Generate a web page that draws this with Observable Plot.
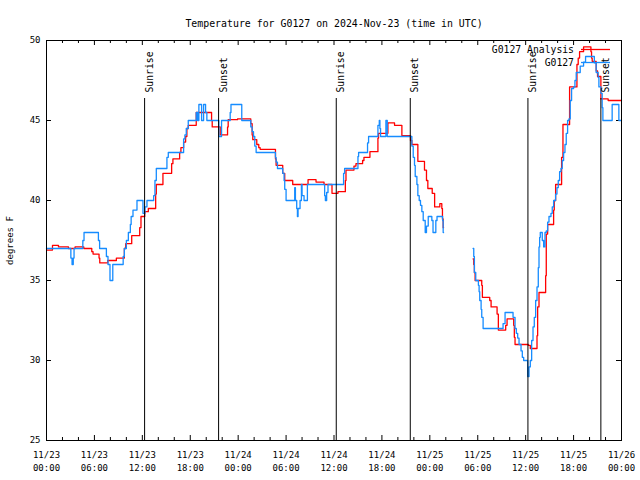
<!DOCTYPE html>
<html><head><meta charset="utf-8">
<script src="https://cdn.jsdelivr.net/npm/d3@7"></script>
<script src="https://cdn.jsdelivr.net/npm/@observablehq/plot@0.6"></script>
<style>body{margin:0;background:#fff} svg{display:block}</style>
</head><body><div id="chart"></div>
<script>
const startISO = "2024-11-23T00:00:00Z";
const spanHours = 72;
const titleText = "Temperature for G0127 on 2024-Nov-23 (time in UTC)";
const yLabel = "degrees F";
const yTicks = [25, 30, 35, 40, 45, 50];
const seriesNames = ["G0127 Analysis", "G0127"];
const seriesColors = ["#ff0000", "#168cff"];
const eventTimes = ["2024-11-23T12:17Z", "2024-11-23T21:33Z", "2024-11-24T12:17Z", "2024-11-24T21:33Z", "2024-11-25T12:17Z", "2024-11-25T21:25Z"];
const eventLabels = ["Sunrise", "Sunset", "Sunrise", "Sunset", "Sunrise", "Sunset"];

// observed (G0127), hours since start, step values; null = no data
const obsHour = [0,3.05,3.2,3.35,3.45,4.55,4.7,6.5,6.65,7.5,7.7,7.95,8.3,9.6,9.75,10.0,10.25,10.5,10.6,10.83,11.33,12.08,12.33,12.58,13.42,13.58,13.75,15.08,15.25,17.17,17.33,17.5,17.75,18.75,18.92,19.08,19.42,19.67,19.92,20.08,21.58,21.92,23.0,23.1,24.45,25.58,25.75,25.92,26.08,26.25,28.67,28.75,28.92,29.58,29.75,29.83,30.0,31.08,31.17,31.33,31.42,31.5,31.75,31.92,32.0,32.25,32.67,34.83,34.92,35.08,35.25,37.2,37.33,39.0,39.08,40.2,40.33,41.5,41.67,41.75,41.83,42.5,42.67,45.75,45.92,46.08,46.17,46.38,46.5,46.67,46.83,47.0,47.17,47.42,47.58,47.8,48.25,48.4,48.75,48.9,49.6,49.67,49.72,49.75,53.42,53.5,53.58,53.75,54.08,54.17,54.25,54.42,54.5,54.67,57.17,57.42,58.42,58.67,58.83,59.0,59.17,59.42,59.58,59.75,60.25,60.42,60.58,60.75,60.92,61.08,61.25,61.42,61.58,61.67,61.75,61.83,62.08,62.25,62.42,62.58,62.75,62.92,63.17,63.33,63.5,63.75,63.92,64.08,64.25,64.42,64.58,64.75,64.92,65.08,65.25,65.42,65.58,65.75,66.0,66.17,66.33,66.83,67.25,67.5,68.6,68.83,69.08,69.17,69.42,69.58,69.67,70.83,71.67,72];
const obsTemp = [37,36.4,36,36.4,37,37.5,38,37.5,37,36.5,36,35,36,36.5,37,37.5,38,38.5,39,39.4,40,39.2,39.6,40,40.3,41.25,42,42.7,43,43.85,44.1,44.5,45,45.5,45,46,45,46,45.5,45,44,45,45.5,46,45,44.6,44.3,44,43.4,43,42.7,42.4,42,41.7,41.25,40.7,40,40.8,40,39.5,39,39.5,40,41,40.3,40,41,40.3,40,40.5,41,41.7,42,42.75,43,43.6,44,44.7,45,44.5,44,45,44,43.4,42.7,42.2,41.5,41,40.3,40,39.7,39.3,38.75,38,38.4,39,38.75,38,38.75,39,38.75,38,38,null,37,36.5,35.5,35,34.7,34.3,33.75,33.2,32.7,32,32.3,33,32.7,32,31.7,31.4,31,30.6,30.2,30,29,29.6,30,31.25,32.1,32.7,33.75,34.6,35.8,37.1,37.7,38,37.5,37.1,38,38.1,38.65,39,39.2,39.6,40,40.4,40.8,41.25,41.8,42,42.5,43,43.5,44.2,45,45.1,46.25,47,47.1,47.5,48,48.4,48.65,49,48.6,48,47.7,47.1,46.7,45.8,45,46,45,45];

// analysis (G0127 Analysis)
const anaHour = [0,0.75,1.5,2.75,3.58,4.67,5.67,5.83,6.58,6.67,7.67,8.75,9.75,9.92,10.67,11.67,11.83,12.3,12.75,13.67,13.75,14.58,15.67,15.83,16.67,16.83,17.17,17.42,17.58,17.75,18.75,20.67,20.75,21.75,22.67,22.75,23.92,25.58,25.75,25.83,26.33,26.58,26.75,28.67,28.75,29.58,29.83,30.83,32.75,33.75,34.75,35.75,36.5,37.42,37.5,38.5,38.75,39.58,39.75,40.5,41.5,41.58,42.75,43.58,44.5,45.58,45.75,46.5,47.33,47.58,47.75,48.3,48.6,49.25,49.5,49.58,49.67,49.72,49.75,53.42,53.5,53.58,53.67,54.5,54.58,55.5,55.67,56.42,56.58,57.5,57.67,58.5,58.58,58.67,60.33,60.58,61.42,61.5,61.67,62.5,62.58,62.75,63.5,63.58,63.75,64.5,64.67,65.5,66.42,66.58,66.75,67.25,68.17,68.25,68.33,68.83,69.0,69.42,70.33,72];
const anaTemp = [36.9,37.2,37.1,37.0,37.1,37.0,36.8,36.65,36.4,36.1,36.25,36.4,37.0,37.3,37.8,38.3,39.0,39.3,39.5,40.4,41.0,41.7,42.3,42.6,43.0,43.3,43.65,44.0,44.5,44.7,45.5,45.0,44.6,44.1,44.6,45.05,45.1,44.8,44.1,43.8,43.5,43.3,43.2,42.6,42.2,41.7,41.25,41.0,41.3,41.15,41.0,40.45,40.55,41.25,41.9,42.15,42.3,42.5,42.7,43.05,43.9,44.2,44.85,44.7,44.05,43.75,43.5,42.45,41.9,41.25,40.75,40.45,39.6,39.8,39.5,38.85,38.3,38.3,null,36.35,36.0,35.5,35.0,34.7,33.95,33.75,33.35,32.9,31.9,32.2,32.6,32.2,31.45,31.0,30.95,30.75,31.55,33.35,34.25,35.3,37.9,38.5,39.4,40.0,41.0,42.7,44.75,47.1,48.5,48.9,49.3,49.6,49.3,48.9,48.7,48.1,47.75,46.35,46.25,46.25];

const t0 = new Date(startISO);
const toDate = h => new Date(+t0 + h * 3600e3);
const tEnd = toDate(spanHours);
const obs = obsHour.map((h, i) => ({time: toDate(h), temp: obsTemp[i]}));
const ana = anaHour.map((h, i) => ({time: toDate(h), temp: anaTemp[i]}));
const events = eventTimes.map((t, i) => ({time: new Date(t), label: eventLabels[i]}));
const majorTicks = d3.utcHour.every(6).range(t0, new Date(+tEnd + 1));
const minorTicks = d3.utcHour.every(2).range(t0, new Date(+tEnd + 1)).filter(d => d.getUTCHours() % 6 !== 0);
const innerY = yTicks.slice(1, -1);
const fmtDay = d3.utcFormat("%m/%d"), fmtHM = d3.utcFormat("%H:%M");
const mono = "DejaVu Sans Mono";

function legend(index, scales, values, dims) {
  const g = d3.create("svg:g").attr("font-family", mono).attr("font-size", 9.75);
  const xr = dims.width - dims.marginRight;
  seriesNames.forEach((name, i) => {
    const y = dims.marginTop + 9.5 + i * 13;
    g.append("text").attr("x", xr - 47).attr("y", y).attr("dy", "0.35em")
      .attr("text-anchor", "end").attr("fill", "black").text(name);
    g.append("line").attr("x1", xr - 40).attr("x2", xr - 11).attr("y1", y).attr("y2", y)
      .attr("stroke", seriesColors[i]).attr("stroke-width", 1.3);
  });
  return g.node();
}

const chart = Plot.plot({
  width: 640, height: 480,
  marginLeft: 46, marginRight: 19, marginTop: 40, marginBottom: 40,
  style: {fontFamily: mono, fontSize: "9px", background: "white", color: "black"},
  x: {type: "utc", domain: [t0, tEnd]},
  y: {domain: [25, 50]},
  marks: [
    Plot.ruleX(majorTicks, {insetTop: 395, stroke: "black"}),
    Plot.ruleX(majorTicks, {insetBottom: 395, stroke: "black"}),
    Plot.ruleX(minorTicks, {insetTop: 397, stroke: "black"}),
    Plot.ruleX(minorTicks, {insetBottom: 397, stroke: "black"}),
    Plot.ruleY(innerY, {insetRight: 570, stroke: "black"}),
    Plot.ruleY(innerY, {insetLeft: 570, stroke: "black"}),
    Plot.line(ana, {x: "time", y: "temp", curve: "step-after", stroke: seriesColors[0], strokeWidth: 1.3}),
    Plot.line(obs, {x: "time", y: "temp", curve: "step-after", stroke: seriesColors[1], strokeWidth: 1.3}),
    Plot.ruleX(events, {x: "time", insetTop: 58, stroke: "black", strokeWidth: 1}),
    Plot.text(events, {x: "time", text: "label", frameAnchor: "top", dy: 52, dx: 1, rotate: -90, textAnchor: "start", fontSize: 9.75, fill: "black"}),
    Plot.frame({stroke: "black"}),
    Plot.axisX({ticks: majorTicks, tickSize: 0, tickPadding: 8, tickFormat: d => fmtDay(d) + "\n" + fmtHM(d), lineHeight: 1.45, fontSize: 9, label: null}),
    Plot.axisY({ticks: yTicks, tickSize: 0, tickPadding: 6, fontSize: 9, label: yLabel, labelAnchor: "center", labelArrow: "none", labelOffset: 40}),
    Plot.text([titleText], {frameAnchor: "top", dy: -21, fontSize: 9.9, fill: "black"}),
    legend
  ]
});
document.getElementById("chart").appendChild(chart);
</script>
</body></html>
